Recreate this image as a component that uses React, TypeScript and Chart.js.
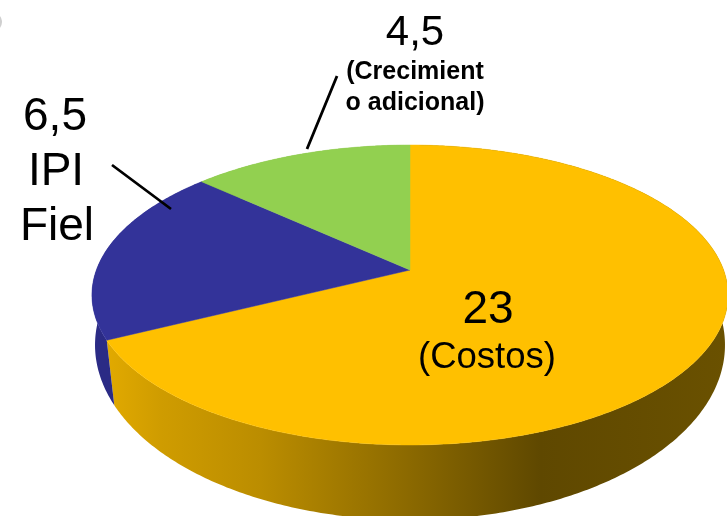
import React, { useEffect, useRef } from "react";
import { Chart, registerables } from "chart.js";

Chart.register(...registerables);

const categories = ["Costos", "IPI Fiel", "Crecimiento adicional"];
const seriesValues = [23, 6.5, 4.5];
const sliceColors = ["#FFC000", "#333399", "#92D050"];
const wallColors = ["#b88c00", "#2b2b85", "#7ab040"];
const label23 = ["23", "(Costos)"];
const label65 = ["6,5", "IPI", "Fiel"];
const label45 = ["4,5", "(Crecimient", "o adicional)"];
const FONT = '"Liberation Sans", Arial, sans-serif';

// perspective projection of the pie's circular top and bottom planes
const TOP = { cx: 410, cy: 270, a: 145.8, b: 313.6, p: 1 / 6 };
const BOTTOM = { cx: 410, cy: 324, a: 172.5, b: 312.7, p: 0.12 };

function project(plane: typeof TOP, theta: number): [number, number] {
  const u = Math.sin(theta);
  const v = Math.cos(theta);
  const w = 1 + plane.p * v;
  return [plane.cx + (plane.b * u) / w, plane.cy - (plane.a * v) / w];
}

function traceArc(ctx: CanvasRenderingContext2D, plane: typeof TOP, t0: number, t1: number) {
  const n = Math.max(2, Math.ceil(Math.abs(t1 - t0) * 90));
  for (let i = 0; i <= n; i++) {
    const [x, y] = project(plane, t0 + ((t1 - t0) * i) / n);
    ctx.lineTo(x, y);
  }
}

const pie3d = {
  id: "pie3d",
  beforeDatasetDraw() {
    return false;
  },
  afterDatasetsDraw(chart: any) {
    const ctx: CanvasRenderingContext2D = chart.ctx;
    const arcs = chart.getDatasetMeta(0).data;
    const angles = arcs.map((a: any) => {
      const p = a.getProps(["startAngle", "endAngle"], true);
      return [p.startAngle + Math.PI / 2, p.endAngle + Math.PI / 2];
    });

    const gold = ctx.createLinearGradient(105, 0, 727, 0);
    gold.addColorStop(0, "#e2aa00");
    gold.addColorStop(0.09, "#cf9c00");
    gold.addColorStop(0.25, "#bb8d00");
    gold.addColorStop(0.47, "#8f6c00");
    gold.addColorStop(0.7, "#5f4800");
    gold.addColorStop(1, "#6a5100");

    ctx.save();
    // walls
    angles.forEach(([t0, t1]: number[], i: number) => {
      ctx.beginPath();
      const [sx, sy] = project(TOP, t0);
      ctx.moveTo(sx, sy);
      traceArc(ctx, TOP, t0, t1);
      traceArc(ctx, BOTTOM, t1, t0);
      ctx.closePath();
      ctx.fillStyle = i === 0 ? gold : wallColors[i];
      ctx.fill();
    });
    // top faces
    angles.forEach(([t0, t1]: number[], i: number) => {
      ctx.beginPath();
      ctx.moveTo(TOP.cx, TOP.cy);
      traceArc(ctx, TOP, t0, t1);
      ctx.closePath();
      ctx.fillStyle = sliceColors[i];
      ctx.fill();
      ctx.strokeStyle = sliceColors[i];
      ctx.lineWidth = 0.5;
      ctx.stroke();
    });

    // leader lines
    ctx.strokeStyle = "#000";
    ctx.lineWidth = 2.8;
    ctx.beginPath();
    ctx.moveTo(112, 165);
    ctx.lineTo(171, 209);
    ctx.moveTo(337, 76);
    ctx.lineTo(307, 149);
    ctx.stroke();

    // sliver at the top-left corner
    ctx.strokeStyle = "#cfcfcf";
    ctx.lineWidth = 2;
    ctx.beginPath();
    ctx.arc(-8, 22, 9, -0.9, 0.9);
    ctx.stroke();

    // labels
    ctx.fillStyle = "#000";
    ctx.textAlign = "center";
    ctx.textBaseline = "alphabetic";
    const put = (t: string, x: number, y: number, size: number, weight = "normal") => {
      ctx.font = `${weight} ${size}px ${FONT}`;
      ctx.fillText(t, x, y);
    };
    put(label45[0], 415, 45, 42);
    put(label45[1], 415, 79, 25, "bold");
    put(label45[2], 415, 110, 25, "bold");
    put(label65[0], 55, 130, 46);
    put(label65[1], 56, 185, 46);
    put(label65[2], 57, 240, 46);
    put(label23[0], 488, 323, 46);
    put(label23[1], 487, 368, 36.5);
    ctx.restore();
  },
};

export default function App() {
  const ref = useRef<HTMLCanvasElement>(null);
  useEffect(() => {
    const chart = new Chart(ref.current as HTMLCanvasElement, {
      type: "pie",
      data: {
        labels: categories,
        datasets: [{ data: seriesValues, backgroundColor: sliceColors, borderWidth: 0 }],
      },
      options: {
        animation: false,
        responsive: false,
        rotation: 0,
        plugins: { legend: { display: false }, tooltip: { enabled: false } },
      },
      plugins: [pie3d],
    } as any);
    return () => chart.destroy();
  }, []);
  return (
    <div style={{ position: "fixed", left: 0, top: 0, width: 727, height: 516, overflow: "hidden", background: "#fff" }}>
      <canvas ref={ref} width={727} height={516} style={{ display: "block" }} />
    </div>
  );
}
